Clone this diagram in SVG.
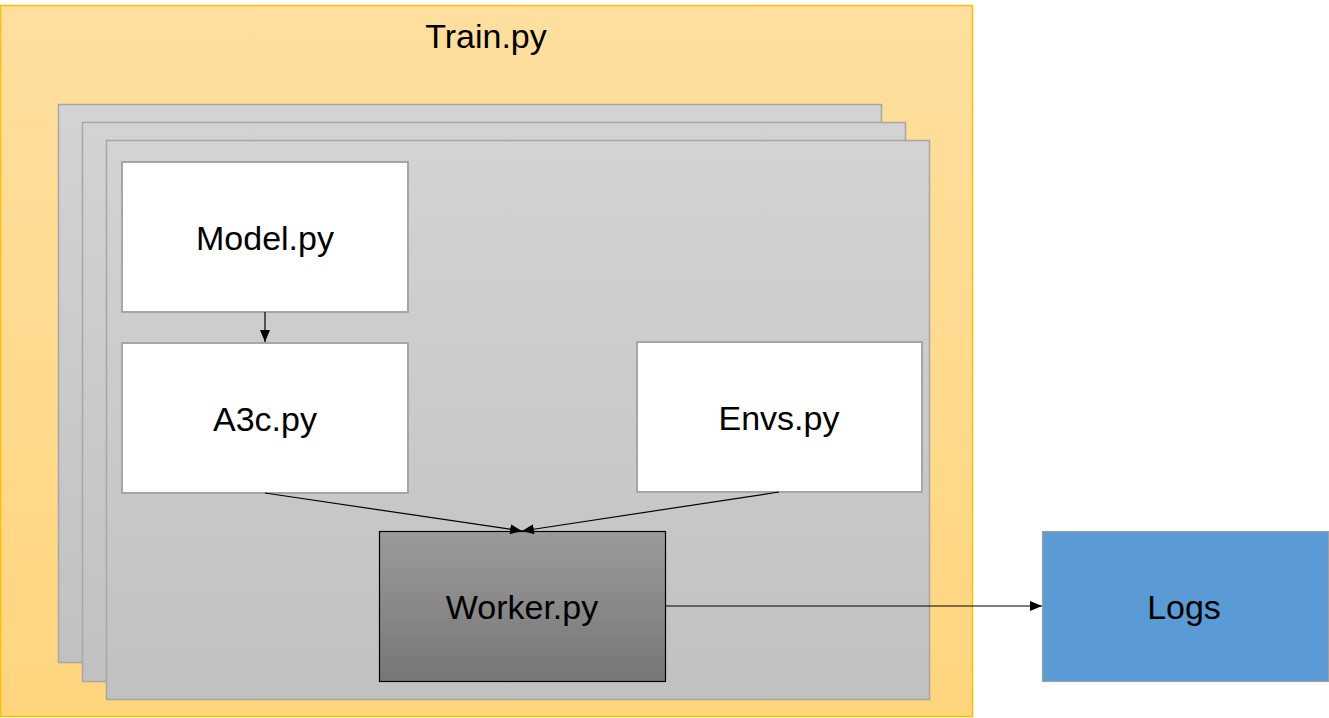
<svg xmlns="http://www.w3.org/2000/svg" width="1329" height="718" viewBox="0 0 1329 718">
<defs>
<linearGradient id="gOrange" x1="0" y1="0" x2="0" y2="1">
<stop offset="0" stop-color="#FFDF9F"/>
<stop offset="1" stop-color="#FFD57E"/>
</linearGradient>
<linearGradient id="gGray" x1="0" y1="0" x2="0" y2="1">
<stop offset="0" stop-color="#D3D3D3"/>
<stop offset="1" stop-color="#C1C1C1"/>
</linearGradient>
<linearGradient id="gWorker" x1="0" y1="0" x2="0" y2="1">
<stop offset="0" stop-color="#9B9B9B"/>
<stop offset="1" stop-color="#767676"/>
</linearGradient>
<marker id="arr" viewBox="0 0 12 10" refX="12" refY="5" markerWidth="12" markerHeight="10" markerUnits="userSpaceOnUse" orient="auto">
<path d="M0,0 L12,5 L0,10 Z" fill="#000"/>
</marker>
</defs>
<style>
.lbl{font-family:"Liberation Sans",Arial,sans-serif;font-size:34px;fill:#000;text-anchor:middle}
.panel{fill:url(#gGray);stroke:#A6A6A6;stroke-width:1.5}
.box{fill:#FFFFFF;stroke:#A6A6A6;stroke-width:2}
.conn{stroke:#000;stroke-width:1.2;fill:none;marker-end:url(#arr)}
</style>
<rect width="1329" height="718" fill="#FFFFFF"/>
<g id="train">
<rect x="0.5" y="5.5" width="972" height="711" fill="url(#gOrange)" stroke="#FFC000" stroke-width="1.5"/>
<text class="lbl" x="486" y="48">Train.py</text>
</g>
<g id="panels">
<rect class="panel" x="58.5" y="104.5" width="823" height="558"/>
<rect class="panel" x="82.5" y="122.5" width="823" height="559"/>
<rect class="panel" x="106.5" y="140.5" width="823" height="559"/>
</g>
<g id="model">
<rect class="box" x="122" y="162" width="286" height="150"/>
<text class="lbl" x="265" y="250">Model.py</text>
</g>
<g id="a3c">
<rect class="box" x="122" y="343" width="286" height="150"/>
<text class="lbl" x="265" y="431">A3c.py</text>
</g>
<g id="envs">
<rect class="box" x="637" y="342" width="285" height="150"/>
<text class="lbl" x="779" y="430">Envs.py</text>
</g>
<g id="worker">
<rect x="379.5" y="531.5" width="286" height="150" fill="url(#gWorker)" stroke="#000" stroke-width="1.2"/>
<text class="lbl" x="522" y="619">Worker.py</text>
</g>
<g id="logs">
<rect x="1042.5" y="531.5" width="286" height="150" fill="#5B9BD5" stroke="#A0A0A0" stroke-width="1.2"/>
<text class="lbl" x="1184" y="619">Logs</text>
</g>
<g id="connectors">
<line class="conn" x1="265" y1="312" x2="265" y2="342"/>
<line class="conn" x1="265" y1="493" x2="522" y2="531"/>
<line class="conn" x1="779" y1="492" x2="522" y2="531"/>
<line class="conn" x1="666" y1="606" x2="1042" y2="606"/>
</g>
</svg>
